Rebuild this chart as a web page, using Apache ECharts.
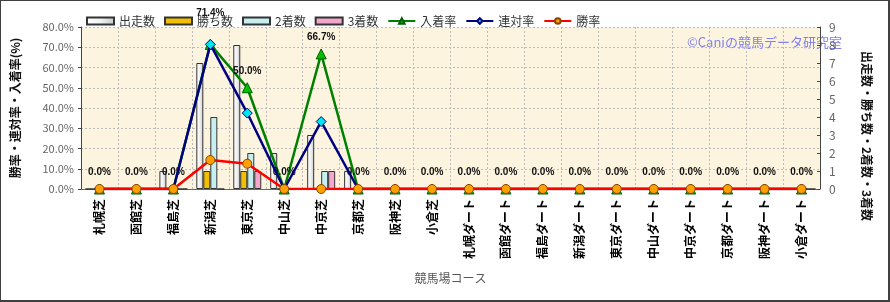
<!DOCTYPE html>
<html>
<head>
<meta charset="utf-8">
<script src="https://cdn.jsdelivr.net/npm/echarts@6/dist/echarts.min.js"></script>
<style>
  html, body { margin: 0; padding: 0; background: #fff; }
  #chart {
    width: 890px; height: 302px; box-sizing: border-box;
    border-top: 1px solid #404040; border-left: 1px solid #404040;
    border-right: 2px solid #404040; border-bottom: 2px solid #404040;
  }
</style>
</head>
<body>
<div id="chart"></div>
<script>
// コース
const courses = ['札幌芝', '函館芝', '福島芝', '新潟芝', '東京芝', '中山芝', '中京芝', '京都芝', '阪神芝', '小倉芝',
  '札幌ダート', '函館ダート', '福島ダート', '新潟ダート', '東京ダート', '中山ダート', '中京ダート', '京都ダート', '阪神ダート', '小倉ダート']

// 頭数
const starts = [0, 0, 1, 7, 8, 2, 3, 1, 0, 0, 0, 0, 0, 0, 0, 0, 0, 0, 0, 0]
const wins = [0, 0, 0, 1, 1, 0, 0, 0, 0, 0, 0, 0, 0, 0, 0, 0, 0, 0, 0, 0]
const seconds = [0, 0, 0, 4, 2, 0, 1, 0, 0, 0, 0, 0, 0, 0, 0, 0, 0, 0, 0, 0]
const thirds = [0, 0, 0, 0, 1, 0, 1, 0, 0, 0, 0, 0, 0, 0, 0, 0, 0, 0, 0, 0]

// 率 (%)
const placeRate = [0, 0, 0, 71.4, 50.0, 0, 66.7, 0, 0, 0, 0, 0, 0, 0, 0, 0, 0, 0, 0, 0]
const rentaiRate = [0, 0, 0, 71.4, 37.5, 0, 33.3, 0, 0, 0, 0, 0, 0, 0, 0, 0, 0, 0, 0, 0]
const winRate = [0, 0, 0, 14.3, 12.5, 0, 0, 0, 0, 0, 0, 0, 0, 0, 0, 0, 0, 0, 0, 0]

const FONT = '"Noto Sans CJK JP", "Noto Sans", sans-serif'

function barSeries(name, data, color, border) {
  return {
    name: name,
    type: 'bar',
    yAxisIndex: 1,
    data: data,
    barWidth: 7,
    barGap: '0%',
    itemStyle: { color: color, borderColor: border, borderWidth: 1 },
  }
}

const chart = echarts.init(document.getElementById('chart'))
chart.setOption({
  animation: false,
  textStyle: { fontFamily: FONT },
  legend: {
    top: 9,
    left: 80,
    itemWidth: 27,
    itemHeight: 7,
    itemGap: 9,
    textStyle: { fontSize: 12, color: '#333', fontFamily: FONT },
    data: [
      { name: '出走数', icon: 'rect' },
      { name: '勝ち数', icon: 'rect' },
      { name: '2着数', icon: 'rect' },
      { name: '3着数', icon: 'rect' },
      '入着率', '連対率', '勝率',
    ],
  },
  grid: {
    left: 77,
    right: 68,
    top: 26,
    height: 162,
    show: true,
    backgroundColor: '#FCF4DE',
    borderColor: '#ccc',
    borderWidth: 0,
  },
  graphic: [
    {
      type: 'text',
      left: 686,
      top: 35,
      style: { text: '©Caniの競馬データ研究室', fill: '#8080EE', font: '13px ' + FONT },
    },
    {
      type: 'text',
      x: 866,
      y: 135,
      rotation: -Math.PI / 2,
      style: {
        text: '出走数・勝ち数・2着数・3着数', fill: '#111', font: 'bold 12px ' + FONT,
        align: 'center', verticalAlign: 'middle',
      },
    },
  ],
  xAxis: {
    type: 'category',
    data: courses,
    name: '競馬場コース',
    nameLocation: 'middle',
    nameGap: 83,
    nameTextStyle: { fontSize: 12, color: '#555' },
    axisLine: { lineStyle: { color: '#666' } },
    axisTick: { show: false },
    axisLabel: { rotate: 90, fontSize: 12, color: '#000', margin: 10, fontWeight: 'bold' },
    splitLine: { show: true, lineStyle: { color: '#bbb', type: [2, 2] } },
  },
  yAxis: [
    {
      type: 'value',
      min: 0,
      max: 80,
      interval: 10,
      name: '勝率・連対率・入着率(%)',
      nameLocation: 'middle',
      nameRotate: 90,
      nameGap: 60,
      nameTextStyle: { fontSize: 12, color: '#111', fontWeight: 'bold' },
      axisLine: { show: true, lineStyle: { color: '#444' } },
      axisTick: { show: true, length: 3, lineStyle: { color: '#444' } },
      axisLabel: { formatter: v => v.toFixed(1) + '%', fontSize: 11, color: '#666', margin: 7 },
      splitLine: { show: true, lineStyle: { color: '#bbb', type: [2, 2] } },
    },
    {
      type: 'value',
      min: 0,
      max: 9,
      interval: 1,
      axisLine: { show: true, lineStyle: { color: '#444' } },
      axisTick: { show: true, length: 3, inside: true, lineStyle: { color: '#444' } },
      axisLabel: { fontSize: 12, color: '#666', margin: 9 },
      splitLine: { show: false },
    },
  ],
  series: [
    barSeries('出走数', starts, {
      type: 'linear', x: 0, y: 0, x2: 1, y2: 0,
      colorStops: [{ offset: 0, color: '#ffffff' }, { offset: 0.5, color: '#f2f2f2' }, { offset: 1, color: '#c8c8c8' }],
    }, '#333'),
    barSeries('勝ち数', wins, '#F2C000', '#333'),
    barSeries('2着数', seconds, '#C6F0F0', '#333'),
    barSeries('3着数', thirds, '#F4A6CC', '#333'),
    {
      name: '入着率',
      type: 'line',
      yAxisIndex: 0,
      data: placeRate.map((v, i) => i === 3 ? { value: v, label: { offset: [0, -15] } } : v),
      symbol: 'triangle',
      symbolSize: 10,
      lineStyle: { color: '#008000', width: 2.5 },
      itemStyle: { color: '#00C000', borderColor: '#006000', borderWidth: 1 },
      label: {
        show: true,
        position: 'top',
        distance: 6,
        formatter: p => p.value.toFixed(1) + '%',
        fontSize: 10,
        fontWeight: 'bold',
        color: '#111',
        fontFamily: 'Arial, sans-serif',
      },
      z: 3,
    },
    {
      name: '連対率',
      type: 'line',
      yAxisIndex: 0,
      data: rentaiRate,
      symbol: 'diamond',
      symbolSize: 10,
      lineStyle: { color: '#000080', width: 2.5 },
      itemStyle: { color: '#00E5F0', borderColor: '#000080', borderWidth: 1 },
      z: 4,
    },
    {
      name: '勝率',
      type: 'line',
      yAxisIndex: 0,
      data: winRate,
      symbol: 'circle',
      symbolSize: 9,
      lineStyle: { color: '#FF0000', width: 2.5 },
      itemStyle: { color: '#FFA000', borderColor: '#8B4500', borderWidth: 1 },
      z: 5,
    },
  ],
})
</script>
</body>
</html>
